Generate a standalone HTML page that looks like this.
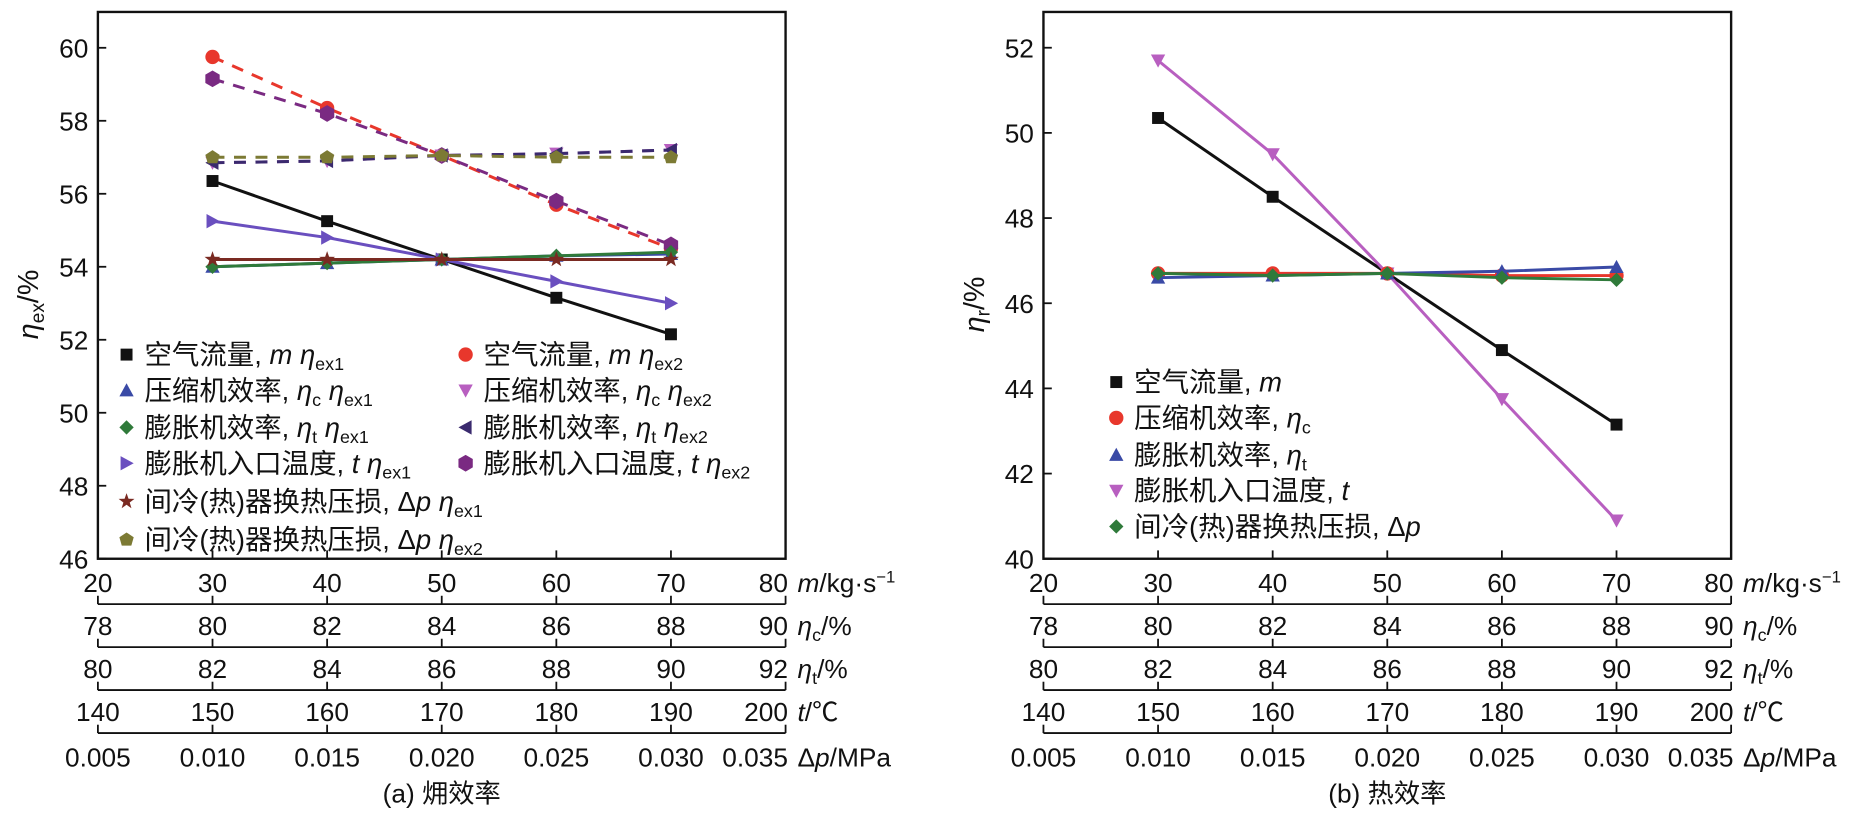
<!DOCTYPE html>
<html><head><meta charset="utf-8"><style>
body{margin:0;background:#fff;}
svg text{font-family:"Liberation Sans","Noto Sans CJK SC",sans-serif;fill:#111;}
</style></head><body>
<svg id="c" width="1872" height="825" viewBox="0 0 1568 691" xmlns="http://www.w3.org/2000/svg"></svg>
<script>
const xCats=[30,40,50,60,70];
const xTicks=[20,30,40,50,60,70,80];
const leftYTicks=[46,48,50,52,54,56,58,60];
const rightYTicks=[40,42,44,46,48,50,52];
const rowEtaC=['78','80','82','84','86','88','90'];
const rowEtaT=['80','82','84','86','88','90','92'];
const rowT=['140','150','160','170','180','190','200'];
const rowDp=['0.005','0.010','0.015','0.020','0.025','0.030','0.035'];
// left series
const mEx1=[56.35,55.25,54.2,53.15,52.15];
const mEx2=[59.75,58.35,57.05,55.7,54.5];
const cEx1=[54.0,54.1,54.2,54.3,54.35];
const cEx2=[56.85,56.9,57.05,57.1,57.2];
const tEx1=[54.0,54.1,54.2,54.3,54.4];
const tEx2=[56.85,56.9,57.05,57.1,57.2];
const tinEx1=[55.25,54.8,54.2,53.6,53.0];
const tinEx2=[59.15,58.2,57.05,55.8,54.6];
const dpEx1=[54.2,54.2,54.2,54.2,54.2];
const dpEx2=[57.0,57.0,57.05,57.0,57.0];
// right series
const rM=[50.35,48.5,46.7,44.9,43.15];
const rC=[46.7,46.7,46.7,46.65,46.65];
const rT=[46.6,46.65,46.7,46.75,46.85];
const rTin=[51.7,49.5,46.7,43.75,40.9];
const rDp=[46.7,46.65,46.7,46.6,46.55];

const svg=document.getElementById('c');
const NS='http://www.w3.org/2000/svg';
function mk(tag,attrs,parent){const e=document.createElementNS(NS,tag);for(const k in attrs)e.setAttribute(k,attrs[k]);(parent||svg).appendChild(e);return e;}
function txt(s,x,y,size,anchor,parent){const t=mk('text',{x:x,y:y,'font-size':size,'text-anchor':anchor||'middle'},parent);t.innerHTML=s;return t;}

function marker(g,type,x,y,col){
  const s=5;let e;
  if(type==='sq')e=mk('rect',{x:x-s,y:y-s,width:2*s,height:2*s,fill:col},g);
  else if(type==='ci')e=mk('circle',{cx:x,cy:y,r:s+1,fill:col},g);
  else{
    let p;
    if(type==='up')p=[[0,-6],[6,5],[-6,5]];
    else if(type==='dn')p=[[0,6],[6,-5],[-6,-5]];
    else if(type==='lt')p=[[-6,0],[5,-6],[5,6]];
    else if(type==='rt')p=[[6,0],[-5,-6],[-5,6]];
    else if(type==='di')p=[[0,-6],[6,0],[0,6],[-6,0]];
    else if(type==='hx')p=[[0,-7],[6,-3.5],[6,3.5],[0,7],[-6,3.5],[-6,-3.5]];
    else if(type==='pe')p=[[0,-6],[6,-2],[4,5],[-4,5],[-6,-2]];
    else if(type==='st'){p=[];for(let i=0;i<10;i++){const r=i%2?2.8:7,a=-Math.PI/2+i*Math.PI/5;p.push([r*Math.cos(a),r*Math.sin(a)]);}}
    e=mk('polygon',{points:p.map(q=>(x+q[0])+','+(y+q[1])).join(' '),fill:col},g);
  }
  
  
}

function panel(opt){
  const g=mk('g',{});
  
  
  const x0=opt.x0,px=9.6;
  const X=v=>x0+(v-20)*px;
  const Y=v=>opt.yb-(v-opt.ymin)*opt.py;
  const xr=X(80);
  mk('rect',{x:x0,y:10,width:xr-x0,height:opt.yb-10,fill:'none',stroke:'#111','stroke-width':2},g);
  opt.yt.forEach(v=>{mk('line',{x1:x0,x2:x0+7,y1:Y(v),y2:Y(v),stroke:'#111','stroke-width':1.5},g);txt(String(v),x0-8,Y(v)+8,22,'end',g);});
  xTicks.forEach(v=>mk('line',{x1:X(v),x2:X(v),y1:opt.yb,y2:opt.yb-7,stroke:'#111','stroke-width':1.5},g));
  const rows=[xTicks.map(String),rowEtaC,rowEtaT,rowT,rowDp];
  const rowY=[496,532,568,604,642];
  const lab=['<tspan font-style="italic">m</tspan>/kg·s<tspan font-size="14" dy="-8">−1</tspan>',
    '<tspan font-style="italic">η</tspan><tspan font-size="15" dy="5">c</tspan><tspan dy="-5">/%</tspan>',
    '<tspan font-style="italic">η</tspan><tspan font-size="15" dy="5">t</tspan><tspan dy="-5">/%</tspan>',
    '<tspan font-style="italic">t</tspan>/℃',
    'Δ<tspan font-style="italic">p</tspan>/MPa'];
  rows.forEach((r,i)=>{
    r.forEach((s,j)=>txt(s,j===r.length-1?xr+2:X(xTicks[j]),rowY[i],22,j===r.length-1?'end':'middle',g));
    txt(lab[i],xr+10,rowY[i],22,'start',g);
    if(i<4){const ly=rowY[i]+10;
      mk('line',{x1:x0,x2:xr,y1:ly,y2:ly,stroke:'#111','stroke-width':1.5},g);
      xTicks.forEach(v=>mk('line',{x1:X(v),x2:X(v),y1:ly,y2:ly-7,stroke:'#111','stroke-width':1.5},g));}
  });
  txt(opt.caption,(x0+xr)/2,672,22,'middle',g);
  const yl=txt(opt.ylab,0,0,24,'middle',g);yl.setAttribute('transform','translate('+(x0-50)+',255) rotate(-90)');
  opt.series.forEach(s=>{
    const sg=mk('g',{},g);
    
    
    mk('polyline',{points:xCats.map((c,i)=>X(c)+','+Y(s.d[i])).join(' '),fill:'none',stroke:s.c,'stroke-width':2.5,'stroke-dasharray':s.dash?'10 8':'none'},sg);
    xCats.forEach((c,i)=>marker(sg,s.m,X(c),Y(s.d[i]),s.c));
  });
  opt.legend.forEach(l=>{
    const lg=mk('g',{},g);
    
    
    marker(lg,l.m,l.x,l.y,l.c);txt(l.t,l.x+15,l.y+8,23,'start',lg);
  });
}
const ex=(n)=>' <tspan font-style="italic">η</tspan><tspan font-size="15" dy="5">ex'+n+'</tspan>';
const C={k:'#111',r:'#e8372c',b:'#3a4aa6',p:'#b85fc0',g:'#2f7a3a',dp:'#3a2a6e',v:'#6a4fbf',pu:'#7a2a82',br:'#7a2a22',ol:'#7c7a34'};
panel({name:'exergy-efficiency-panel',x0:82,yb:468,ymin:46,py:30.57,yt:leftYTicks,
 caption:'(a) 㶲效率',ylab:'<tspan font-style="italic">η</tspan><tspan font-size="16" dy="5">ex</tspan><tspan dy="-5">/%</tspan>',
 series:[
 {id:'m-ex2',d:mEx2,c:C.r,m:'ci',dash:1},{id:'t-ex2',d:tinEx2,c:C.pu,m:'hx',dash:1},
 {id:'etac-ex2',d:cEx2,c:C.p,m:'dn',dash:1},{id:'etat-ex2',d:tEx2,c:C.dp,m:'lt',dash:1},
 {id:'dp-ex2',d:dpEx2,c:C.ol,m:'pe',dash:1},
 {id:'m-ex1',d:mEx1,c:C.k,m:'sq'},{id:'t-ex1',d:tinEx1,c:C.v,m:'rt'},
 {id:'etac-ex1',d:cEx1,c:C.b,m:'up'},{id:'etat-ex1',d:tEx1,c:C.g,m:'di'},{id:'dp-ex1',d:dpEx1,c:C.br,m:'st'}],
 legend:[
 {x:106,y:297,m:'sq',c:C.k,t:'空气流量, <tspan font-style="italic">m</tspan>'+ex(1)},
 {x:390,y:297,m:'ci',c:C.r,t:'空气流量, <tspan font-style="italic">m</tspan>'+ex(2)},
 {x:106,y:327,m:'up',c:C.b,t:'压缩机效率, <tspan font-style="italic">η</tspan><tspan font-size="15" dy="5">c</tspan><tspan dy="-5"> </tspan>'+ex(1)},
 {x:390,y:327,m:'dn',c:C.p,t:'压缩机效率, <tspan font-style="italic">η</tspan><tspan font-size="15" dy="5">c</tspan><tspan dy="-5"> </tspan>'+ex(2)},
 {x:106,y:358,m:'di',c:C.g,t:'膨胀机效率, <tspan font-style="italic">η</tspan><tspan font-size="15" dy="5">t</tspan><tspan dy="-5"> </tspan>'+ex(1)},
 {x:390,y:358,m:'lt',c:C.dp,t:'膨胀机效率, <tspan font-style="italic">η</tspan><tspan font-size="15" dy="5">t</tspan><tspan dy="-5"> </tspan>'+ex(2)},
 {x:106,y:388,m:'rt',c:C.v,t:'膨胀机入口温度, <tspan font-style="italic">t</tspan>'+ex(1)},
 {x:390,y:388,m:'hx',c:C.pu,t:'膨胀机入口温度, <tspan font-style="italic">t</tspan>'+ex(2)},
 {x:106,y:420,m:'st',c:C.br,t:'间冷(热)器换热压损, Δ<tspan font-style="italic">p</tspan>'+ex(1)},
 {x:106,y:452,m:'pe',c:C.ol,t:'间冷(热)器换热压损, Δ<tspan font-style="italic">p</tspan>'+ex(2)}]
});
panel({name:'thermal-efficiency-panel',x0:874,yb:468,ymin:40,py:35.67,yt:rightYTicks,
 caption:'(b) 热效率',ylab:'<tspan font-style="italic">η</tspan><tspan font-size="16" dy="5">r</tspan><tspan dy="-5">/%</tspan>',
 series:[{id:'m',d:rM,c:C.k,m:'sq'},{id:'t',d:rTin,c:C.p,m:'dn'},{id:'etac',d:rC,c:C.r,m:'ci'},
 {id:'etat',d:rT,c:C.b,m:'up'},{id:'dp',d:rDp,c:C.g,m:'di'}],
 legend:[
 {x:935,y:320,m:'sq',c:C.k,t:'空气流量, <tspan font-style="italic">m</tspan>'},
 {x:935,y:350,m:'ci',c:C.r,t:'压缩机效率, <tspan font-style="italic">η</tspan><tspan font-size="15" dy="5">c</tspan>'},
 {x:935,y:381,m:'up',c:C.b,t:'膨胀机效率, <tspan font-style="italic">η</tspan><tspan font-size="15" dy="5">t</tspan>'},
 {x:935,y:411,m:'dn',c:C.p,t:'膨胀机入口温度, <tspan font-style="italic">t</tspan>'},
 {x:935,y:441,m:'di',c:C.g,t:'间冷(热)器换热压损, Δ<tspan font-style="italic">p</tspan>'}]
});
</script>
</body></html>
